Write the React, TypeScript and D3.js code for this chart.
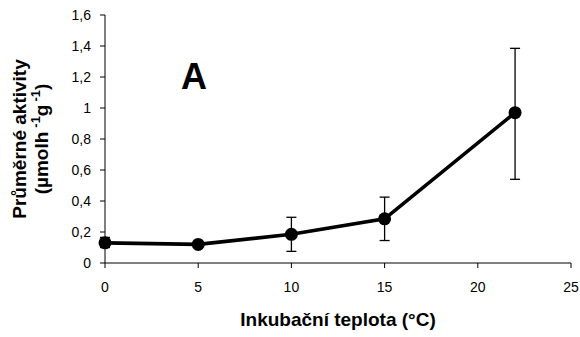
import React from "react";
import * as d3 from "d3";

// Incubation temperature (°C) and mean activity with error-bar bounds
const temps = [0, 5, 10, 15, 22];
const means = [0.13, 0.12, 0.185, 0.285, 0.97];
const lower = [0.1, 0.105, 0.075, 0.145, 0.54];
const upper = [0.165, 0.135, 0.295, 0.425, 1.385];

const xTicks = [0, 5, 10, 15, 20, 25];
const yTicks = [0, 0.2, 0.4, 0.6, 0.8, 1.0, 1.2, 1.4, 1.6];

const W = 580;
const H = 337;
const FONT = "Arial, 'Liberation Sans', sans-serif";

export default function App() {
  const x = d3.scaleLinear().domain([0, 25]).range([105, 571]);
  const y = d3.scaleLinear().domain([0, 1.6]).range([263, 15]);
  const fmt = (v: number) => d3.format(".1~f")(v).replace(".", ",");

  const points = temps.map((t, i) => ({ t, m: means[i], lo: lower[i], hi: upper[i] }));
  const line = d3
    .line<{ t: number; m: number }>()
    .x((d) => x(d.t))
    .y((d) => y(d.m));

  const capHalf = 5;

  return (
    <svg
      width={W}
      height={H}
      style={{ position: "absolute", left: 0, top: 0, background: "#fff" }}
      fontFamily={FONT}
    >
      <rect width={W} height={H} fill="#fff" />

      {/* y axis */}
      <line x1={x(0)} x2={x(0)} y1={y(0)} y2={y(1.6)} stroke="#000" strokeWidth={1} />
      {yTicks.map((v) => (
        <g key={"y" + v}>
          <line x1={x(0) - 5} x2={x(0)} y1={y(v)} y2={y(v)} stroke="#000" strokeWidth={1} />
          <text x={x(0) - 14} y={y(v)} dy="0.36em" textAnchor="end" fontSize={14} fill="#000">
            {fmt(v)}
          </text>
        </g>
      ))}

      {/* x axis */}
      <line x1={x(0)} x2={x(25)} y1={y(0)} y2={y(0)} stroke="#000" strokeWidth={1} />
      {xTicks.map((v) => (
        <g key={"x" + v}>
          <line x1={x(v)} x2={x(v)} y1={y(0)} y2={y(0) + 5} stroke="#000" strokeWidth={1} />
          <text x={x(v)} y={292} textAnchor="middle" fontSize={14} fill="#000">
            {v}
          </text>
        </g>
      ))}

      {/* error bars */}
      {points.map((p) => (
        <g key={"e" + p.t} stroke="#000" strokeWidth={1.3}>
          <line x1={x(p.t)} x2={x(p.t)} y1={y(p.lo)} y2={y(p.hi)} />
          <line x1={x(p.t) - capHalf} x2={x(p.t) + capHalf} y1={y(p.lo)} y2={y(p.lo)} />
          <line x1={x(p.t) - capHalf} x2={x(p.t) + capHalf} y1={y(p.hi)} y2={y(p.hi)} />
        </g>
      ))}

      {/* series line and markers */}
      <path d={line(points) || ""} fill="none" stroke="#000" strokeWidth={3.6} />
      {points.map((p) => (
        <circle key={"c" + p.t} cx={x(p.t)} cy={y(p.m)} r={6.5} fill="#000" />
      ))}

      {/* panel letter */}
      <text x={194} y={89} textAnchor="middle" fontSize={36} fontWeight="bold" fill="#000">
        A
      </text>

      {/* axis titles */}
      <text x={338} y={326} textAnchor="middle" fontSize={19} fontWeight="bold" fill="#000">
        Inkubační teplota (°C)
      </text>
      <g transform="translate(0,139) rotate(-90)" fontWeight="bold" fill="#000">
        <text x={0} y={26} textAnchor="middle" fontSize={19}>
          Průměrné aktivity
        </text>
        <text x={0} y={48} textAnchor="middle" fontSize={19} xmlSpace="preserve">
          (µmolh
          <tspan fontSize={13} dx={4} dy={-8}>-1</tspan>
          <tspan dy={8}>g</tspan>
          <tspan fontSize={13} dx={3} dy={-8}>-1</tspan>
          <tspan dy={8}>)</tspan>
        </text>
      </g>
    </svg>
  );
}
